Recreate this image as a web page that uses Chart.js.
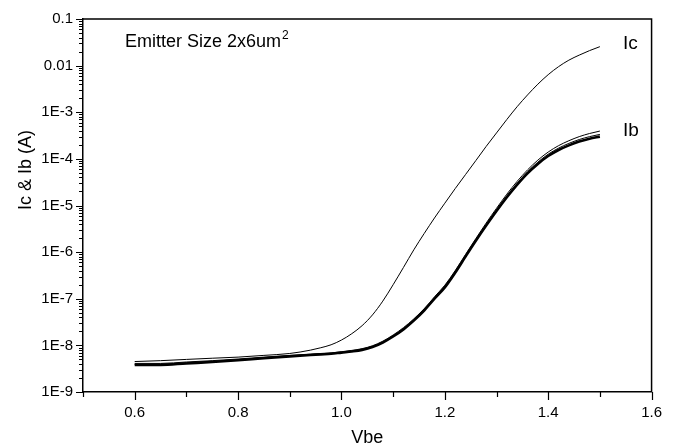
<!DOCTYPE html>
<html>
<head>
<meta charset="utf-8">
<script src="https://cdn.jsdelivr.net/npm/chart.js@4"></script>
<style>
  html, body { margin: 0; padding: 0; background: #fff; }
</style>
</head>
<body>
<canvas id="chart" width="674" height="448"></canvas>
<script>
// Vbe sweep (V)
const vbe = [0.60, 0.65, 0.70, 0.75, 0.80, 0.85, 0.90, 0.94, 0.96,
  0.98, 1.00, 1.02, 1.04, 1.06, 1.08, 1.10, 1.12, 1.14, 1.16, 1.18, 1.20,
  1.22, 1.24, 1.26, 1.28, 1.30, 1.32, 1.34, 1.36, 1.38, 1.40, 1.42, 1.44,
  1.46, 1.48, 1.50];

// collector current (A)
const ic = [4.5e-9, 4.7e-9, 5.0e-9, 5.3e-9, 5.6e-9, 6.1e-9, 6.7e-9, 7.9e-9, 8.9e-9,
  1.03e-8, 1.3e-8, 1.78e-8, 2.65e-8, 4.5e-8, 8.9e-8, 2.0e-7, 4.7e-7, 1.12e-6, 2.5e-6, 5.4e-6, 1.12e-5,
  2.3e-5, 4.6e-5, 9.2e-5, 1.85e-4, 3.6e-4, 7.0e-4, 1.32e-3, 2.35e-3, 4.0e-3, 6.4e-3, 9.5e-3, 1.31e-2,
  1.68e-2, 2.1e-2, 2.55e-2];

// base current, three overlapping traces (A)
const ibUpper = [4.1e-9, 4.1e-9, 4.4e-9, 4.7e-9, 5.1e-9, 5.6e-9, 6.1e-9, 6.5e-9, 6.7e-9,
  6.9e-9, 7.3e-9, 7.8e-9, 8.5e-9, 9.8e-9, 1.23e-8, 1.67e-8, 2.4e-8, 3.7e-8, 6.1e-8, 1.1e-7, 1.95e-7,
  4.0e-7, 8.9e-7, 1.95e-6, 4.2e-6, 8.7e-6, 1.75e-5, 3.3e-5, 5.8e-5, 9.4e-5, 1.4e-4, 1.92e-4, 2.45e-4,
  3.0e-4, 3.5e-4, 3.95e-4];
const ibMid = [3.9e-9, 3.95e-9, 4.25e-9, 4.55e-9, 4.95e-9, 5.45e-9, 5.95e-9, 6.35e-9, 6.55e-9,
  6.75e-9, 7.1e-9, 7.55e-9, 8.2e-9, 9.5e-9, 1.19e-8, 1.6e-8, 2.3e-8, 3.55e-8, 5.85e-8, 1.05e-7, 1.85e-7,
  3.8e-7, 8.4e-7, 1.85e-6, 3.9e-6, 8.1e-6, 1.6e-5, 3.0e-5, 5.3e-5, 8.5e-5, 1.26e-4, 1.7e-4, 2.15e-4,
  2.6e-4, 3.0e-4, 3.35e-4];
const ibLower = [3.8e-9, 3.8e-9, 4.1e-9, 4.4e-9, 4.8e-9, 5.3e-9, 5.8e-9, 6.2e-9, 6.4e-9,
  6.6e-9, 7.0e-9, 7.4e-9, 8.0e-9, 9.2e-9, 1.15e-8, 1.55e-8, 2.2e-8, 3.4e-8, 5.6e-8, 1.0e-7, 1.75e-7,
  3.6e-7, 8.0e-7, 1.75e-6, 3.7e-6, 7.6e-6, 1.5e-5, 2.8e-5, 4.9e-5, 7.8e-5, 1.15e-4, 1.55e-4, 1.95e-4,
  2.35e-4, 2.7e-4, 3.0e-4];

// axis ticks
const xTicks = [0.6, 0.8, 1.0, 1.2, 1.4, 1.6];
const xTickLabels = ['0.6', '0.8', '1.0', '1.2', '1.4', '1.6'];
const xMinor = [0.5, 0.7, 0.9, 1.1, 1.3, 1.5];
const yTicks = [1e-9, 1e-8, 1e-7, 1e-6, 1e-5, 1e-4, 1e-3, 1e-2, 1e-1];
const yTickLabels = ['1E-9', '1E-8', '1E-7', '1E-6', '1E-5', '1E-4', '1E-3', '0.01', '0.1'];

const FONT = '"Liberation Sans", Arial, sans-serif';

const pts = ys => vbe.map((x, i) => ({ x: x, y: ys[i] }));

const line = (data, width) => ({
  data: pts(data),
  showLine: true,
  borderColor: '#000',
  borderWidth: width,
  pointRadius: 0,
  cubicInterpolationMode: 'monotone'
});

const frame = {
  id: 'frame',
  afterDraw(chart) {
    const { ctx, chartArea: a, scales: { x, y } } = chart;
    ctx.save();
    ctx.strokeStyle = '#000';
    ctx.lineWidth = 1.5;
    ctx.beginPath();
    ctx.moveTo(a.left, a.top);
    ctx.lineTo(a.right, a.top);
    ctx.lineTo(a.right, a.bottom);
    ctx.stroke();

    // tick marks
    ctx.lineWidth = 1.2;
    ctx.beginPath();
    xTicks.forEach(v => {
      const px = Math.round(x.getPixelForValue(v)) + 0.5;
      ctx.moveTo(px, a.bottom); ctx.lineTo(px, a.bottom + 8);
    });
    xMinor.forEach(v => {
      const px = Math.round(x.getPixelForValue(v)) + 0.5;
      ctx.moveTo(px, a.bottom); ctx.lineTo(px, a.bottom + 5);
    });
    yTicks.forEach(v => {
      const py = Math.round(y.getPixelForValue(v)) + 0.5;
      ctx.moveTo(a.left, py); ctx.lineTo(a.left - 7, py);
    });
    for (let e = -9; e < -1; e++) {
      for (let k = 2; k <= 9; k++) {
        const py = Math.round(y.getPixelForValue(k * Math.pow(10, e))) + 0.5;
        ctx.moveTo(a.left, py); ctx.lineTo(a.left - 4, py);
      }
    }
    ctx.stroke();

    // texts
    ctx.fillStyle = '#000';
    ctx.textBaseline = 'alphabetic';
    ctx.textAlign = 'left';
    ctx.font = '18px ' + FONT;
    const t = 'Emitter Size 2x6um';
    ctx.fillText(t, 125, 47);
    const w = ctx.measureText(t).width;
    ctx.font = '12px ' + FONT;
    ctx.fillText('2', 125 + w + 1, 39);

    ctx.font = '19px ' + FONT;
    ctx.fillText('Ic', 623, 49);
    ctx.fillText('Ib', 623, 136);

    ctx.font = '18px ' + FONT;
    ctx.textAlign = 'center';
    ctx.fillText('Vbe', (a.left + a.right) / 2, 443);

    ctx.translate(31, 170);
    ctx.rotate(-Math.PI / 2);
    ctx.fillText('Ic & Ib (A)', 0, 0);
    ctx.restore();
  }
};

new Chart(document.getElementById('chart'), {
  type: 'scatter',
  data: {
    datasets: [
      line(ic, 1),
      line(ibUpper, 1),
      line(ibMid, 1),
      line(ibLower, 2.6)
    ]
  },
  options: {
    responsive: false,
    animation: false,
    layout: { padding: { top: 19, right: 11, left: 0, bottom: 0 } },
    plugins: { legend: { display: false }, tooltip: { enabled: false } },
    scales: {
      x: {
        type: 'linear',
        min: 0.5,
        max: 1.6,
        afterFit: s => { s.height = 56; },
        afterBuildTicks: s => { s.ticks = xTicks.map(v => ({ value: v })); },
        grid: { display: false, drawTicks: false },
        border: { display: true, color: '#000', width: 1.5 },
        ticks: {
          padding: 12,
          color: '#000',
          font: { family: FONT, size: 15 },
          callback: (v, i) => xTickLabels[i]
        }
      },
      y: {
        type: 'logarithmic',
        min: 1e-9,
        max: 0.1,
        afterFit: s => { s.width = 83; },
        afterBuildTicks: s => { s.ticks = yTicks.map(v => ({ value: v })); },
        grid: { display: false, drawTicks: false },
        border: { display: true, color: '#000', width: 1.5 },
        ticks: {
          padding: 10,
          color: '#000',
          font: { family: FONT, size: 15 },
          callback: (v, i) => yTickLabels[i]
        }
      }
    }
  },
  plugins: [frame]
});
</script>
</body>
</html>
